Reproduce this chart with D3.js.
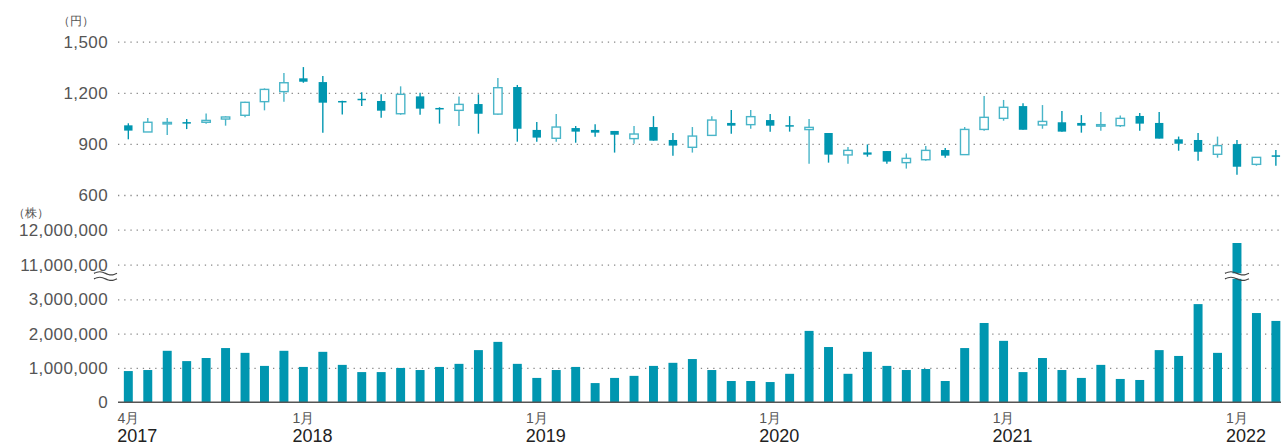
<!DOCTYPE html>
<html>
<head>
<meta charset="utf-8">
<script src="https://cdn.jsdelivr.net/npm/d3@7"></script>
<style>
  body { margin: 0; background: #fff; }
  text { font-family: "Liberation Sans", Arial, sans-serif; }
</style>
</head>
<body>
<script>
// monthly data, Apr 2017 .. Mar 2022
const openP  = [1009, 970,1022,1028,1027,1046,1068,1148,1207,1285,1263,1152,1165,1152,1077,1179,
                1111,1097,1134,1075,1234, 982, 933, 993, 982, 976, 931, 999, 923, 880, 950,1023,
                1013,1040,1010, 984, 964, 835, 850, 858, 790, 807, 864, 837, 985,1050,1122,1011,
                1027,1023,1007,1007,1064,1023, 927, 923, 839, 899, 780, 833];
const highP  = [1021,1052,1052,1046,1079,1062,1148,1226,1316,1351,1298,1154,1203,1191,1238,1201,
                1115,1179,1191,1287,1246,1028,1075,1005,1016, 976,1005,1063, 964, 999,1063,1099,
                1099,1075,1063,1046, 964, 882, 897, 858, 844, 887, 876, 999,1181,1158,1138,1128,
                1093,1069,1087,1067,1081,1087, 943, 964, 943, 923, 821, 864];
const lowP   = [ 927, 970, 952, 987,1019,1007,1056,1097,1148,1259, 966,1072,1122,1054,1071,1071,
                1019,1005, 960,1071, 913, 913, 913, 907, 942, 849, 901, 919, 831, 849, 950, 960,
                 989, 972, 972, 784, 790, 784, 825, 784, 755, 801, 819, 837, 977,1036, 983, 989,
                 972, 966, 977, 999, 977, 931, 860, 801, 819, 719, 772, 772];
const closeP = [ 978,1027,1026,1019,1038,1058,1144,1220,1259,1265,1142,1149,1160,1095,1191,1107,
                1104,1132,1077,1230, 989, 937, 999, 972, 966, 954, 958, 919, 890, 946,1040,1007,
                1060,1007,1009, 997, 837, 862, 837, 796, 815, 862, 831, 985,1056,1115, 983,1032,
                 972,1007,1013,1050,1019, 931, 901, 854, 890, 766, 821, 825];
const volume = [0.91,0.94,1.50,1.20,1.29,1.58,1.44,1.06,1.50,1.03,1.47,1.09,0.88,0.88,1.00,0.94,
                1.03,1.12,1.52,1.76,1.12,0.71,0.94,1.03,0.56,0.71,0.77,1.06,1.15,1.26,0.94,0.62,
                0.62,0.59,0.83,2.08,1.61,0.83,1.47,1.06,0.94,0.97,0.62,1.58,2.31,1.79,0.88,1.29,
                0.94,0.71,1.09,0.68,0.65,1.52,1.35,2.86,1.44,11.62,2.60,2.37].map(d => d * 1e6);
const xLabels = [{i: 0, m: "4月", y: "2017"}, {i: 9, m: "1月", y: "2018"}, {i: 21, m: "1月", y: "2019"},
                 {i: 33, m: "1月", y: "2020"}, {i: 45, m: "1月", y: "2021"}, {i: 57, m: "1月", y: "2022"}];
const priceTicks = [600, 900, 1200, 1500];
const volTicks = [0, 1e6, 2e6, 3e6, 11e6, 12e6];

var width = 1281, height = 446, left = 118, right = 1281;
const teal = "#0096b0", tealLight = "#49b5c8";

var svg = d3.select("body").append("svg")
    .attr("width", width).attr("height", height);

var idx = d3.range(openP.length);
var x = d3.scaleBand().domain(idx).range([118.6, 118.6 + 60 * 19.45]).paddingInner(0.54).paddingOuter(0.27);
var yP = d3.scaleLinear().domain([600, 1500]).range([195, 41.7]);
var yV = d3.scaleLinear().domain([0, 3e6, 11e6, 12e6]).range([402.3, 299.3, 264.7, 229.7]);
function cx(i) { return x(i) + x.bandwidth() / 2; }

function styleAxis(g) {
  g.select(".domain").remove();
  g.selectAll(".tick line").attr("stroke", "#888").attr("stroke-width", 1.3).attr("stroke-dasharray", "1.3,4.9");
  g.selectAll(".tick text").attr("fill", "#555").style("font-size", "17px").style("letter-spacing", "0.4px");
}

svg.append("g").attr("transform", "translate(" + left + ",0)")
  .call(d3.axisLeft(yP).tickValues(priceTicks).tickSize(-(right - left)).tickPadding(10).tickFormat(d3.format(",")))
  .call(styleAxis);
svg.append("g").attr("transform", "translate(" + left + ",0)")
  .call(d3.axisLeft(yV).tickValues(volTicks).tickSize(-(right - left)).tickPadding(10).tickFormat(d3.format(",")))
  .call(styleAxis)
  .call(g => g.selectAll(".tick").filter(d => d === 0).select("line").remove());

// unit labels
svg.append("text").attr("x", 64).attr("y", 25).attr("fill", "#555").style("font-size", "12px").text("（円）").attr("x", 58);
svg.append("text").attr("x", 13).attr("y", 217).attr("fill", "#555").style("font-size", "12px").text("（株）");

// volume bars
svg.append("g").selectAll("rect").data(idx).enter().append("rect")
  .attr("x", d => x(d)).attr("width", x.bandwidth())
  .attr("y", d => yV(volume[d])).attr("height", d => yV(0) - yV(volume[d]))
  .attr("fill", teal);

// baseline
svg.append("line").attr("x1", left).attr("x2", right).attr("y1", yV(0)).attr("y2", yV(0))
  .attr("stroke", "#555").attr("stroke-width", 1.6);

// candles
var c = svg.append("g").selectAll("g").data(idx).enter().append("g");
c.append("line")
  .attr("x1", d => cx(d)).attr("x2", d => cx(d))
  .attr("y1", d => yP(highP[d])).attr("y2", d => yP(lowP[d]))
  .attr("stroke", d => closeP[d] >= openP[d] ? tealLight : teal).attr("stroke-width", 1.4);
c.append("rect")
  .attr("x", d => cx(d) - 4.2).attr("width", 8.4)
  .attr("y", d => yP(Math.max(openP[d], closeP[d])))
  .attr("height", d => Math.max(1.5, Math.abs(yP(openP[d]) - yP(closeP[d]))))
  .attr("fill", d => closeP[d] >= openP[d] ? "#fff" : teal)
  .attr("stroke", d => closeP[d] >= openP[d] ? tealLight : teal)
  .attr("stroke-width", d => closeP[d] >= openP[d] ? 1.4 : 0);

// x labels
var xl = svg.append("g").selectAll("g").data(xLabels).enter().append("g");
xl.append("text").attr("x", d => cx(d.i)).attr("y", 423).attr("text-anchor", "middle")
  .attr("fill", "#555").style("font-size", "14px").text(d => d.m);
xl.append("text").attr("x", d => cx(d.i) - 11).attr("y", 442)
  .attr("fill", "#222").style("font-size", "18px").text(d => d.y);

// axis break marks
var wave = d3.line().curve(d3.curveBasis);
function wavePts(x0, x1, y0) {
  return d3.range(0, 9).map(k => [x0 + (x1 - x0) * k / 8, y0 + 1.8 * Math.sin(k / 8 * 2 * Math.PI + Math.PI)]);
}
var bx = cx(57);
svg.append("rect").attr("x", bx - 8).attr("width", 16).attr("y", yV(9e6)).attr("height", 5.5).attr("fill", "#fff");
[[94, 117], [bx - 12, bx + 12]].forEach(function(r) {
  [0, 5.5].forEach(function(off) {
    svg.append("path").attr("d", wave(wavePts(r[0], r[1], yV(9e6) + off)))
      .attr("fill", "none").attr("stroke", "#444").attr("stroke-width", 1.2);
  });
});
</script>
</body>
</html>
